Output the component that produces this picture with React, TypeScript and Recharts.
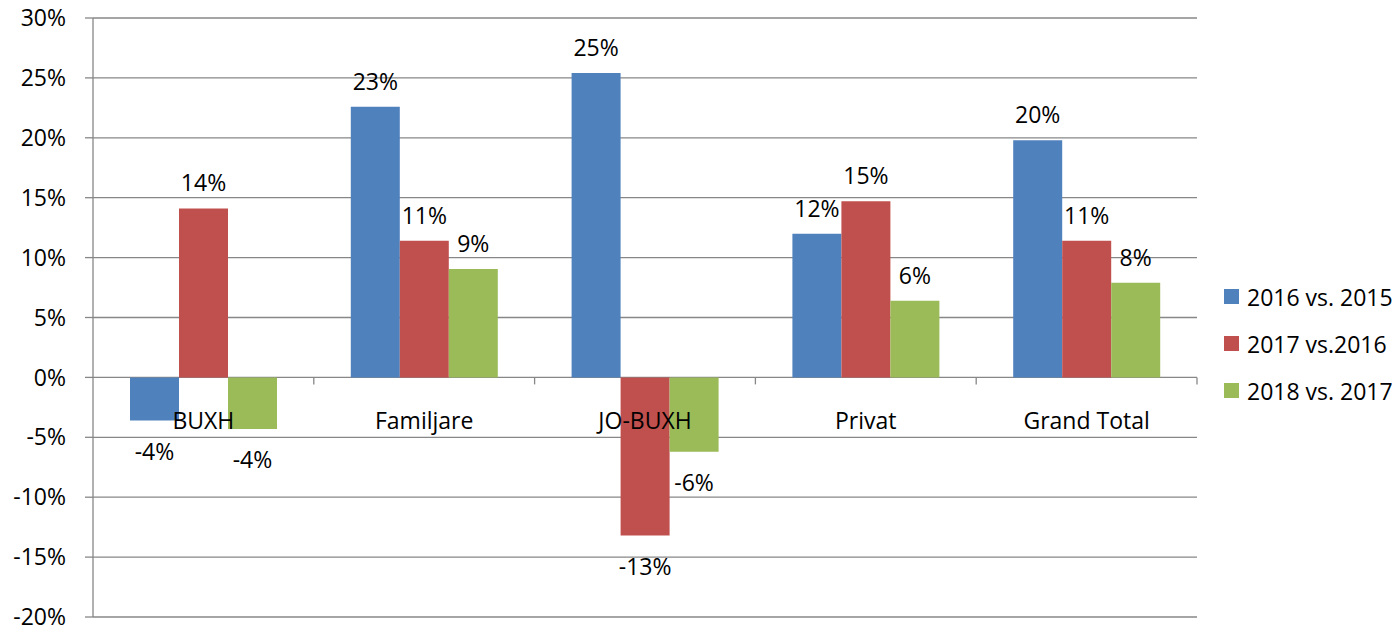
import { BarChart, Bar, XAxis, YAxis, CartesianGrid, LabelList } from "recharts";

const categories = ["BUXH", "Familjare", "JO-BUXH", "Privat", "Grand Total"];
const vs2016 = [-3.6, 22.6, 25.4, 12.0, 19.8];
const vs2017 = [14.1, 11.4, -13.2, 14.7, 11.4];
const vs2018 = [-4.3, 9.05, -6.2, 6.4, 7.9];
const seriesNames = ["2016 vs. 2015", "2017 vs.2016", "2018 vs. 2017"];
const yTicks = [-20, -15, -10, -5, 0, 5, 10, 15, 20, 25, 30];

const COLORS = ["#4F81BD", "#C0504D", "#9BBB59"];
const GRID = "#878787";
const FONT = "'Open Sans', sans-serif";

const data = categories.map((name, i) => ({
  name,
  a: vs2016[i],
  b: vs2017[i],
  c: vs2018[i],
}));

const W = 1399;
const H = 628;
const TOP = 18;
const BOTTOM = 10;
const X_H = 1;
const LEFT_AXIS = 93;
const RIGHT = 202;
const PLOT_H = H - TOP - BOTTOM - X_H;
const ZERO_Y = TOP + PLOT_H * (30 / 50);
const BAND = (W - LEFT_AXIS - RIGHT) / categories.length;

const renderLabel = (props: any) => {
  const { x, y, width, height, value } = props;
  const v = Number(value);
  const top = Math.min(Number(y), Number(y) + Number(height));
  const bottom = Math.max(Number(y), Number(y) + Number(height));
  const cy = v >= 0 ? top - 26 : bottom + 30;
  return (
    <text x={Number(x) + Number(width) / 2} y={cy} textAnchor="middle" dominantBaseline="central"
      fontSize={23} fill="#000" fontFamily={FONT}>
      {Math.round(v)}%
    </text>
  );
};

const renderCategoryTick = (props: any) => {
  const { x, payload, index } = props;
  return (
    <g key={`cat-${index}`}>
      {index > 0 && <line x1={x - BAND / 2} x2={x - BAND / 2} y1={ZERO_Y} y2={ZERO_Y + 7} stroke={GRID} strokeWidth={1.3} />}
      {index === categories.length - 1 && (
        <line x1={x + BAND / 2} x2={x + BAND / 2} y1={ZERO_Y} y2={ZERO_Y + 7} stroke={GRID} strokeWidth={1.3} />
      )}
      <text x={x} y={ZERO_Y + 43} textAnchor="middle" dominantBaseline="central" fontSize={23} fill="#000" fontFamily={FONT}>
        {payload.value}
      </text>
    </g>
  );
};

export default function App() {
  return (
    <div style={{ position: "absolute", left: 0, top: 0, width: W, height: H, background: "#fff", fontFamily: FONT }}>
      <BarChart width={W} height={H} data={data} barGap={0} barSize={49}
        margin={{ top: TOP, right: RIGHT, bottom: BOTTOM, left: 0 }}>
        <CartesianGrid vertical={false} stroke={GRID} strokeWidth={1.3} />
        <YAxis domain={[-20, 30]} ticks={yTicks} interval={0} width={LEFT_AXIS}
          tickFormatter={(v) => `${v}%`} tickSize={8} tickMargin={19}
          axisLine={{ stroke: GRID, strokeWidth: 1.3 }} tickLine={{ stroke: GRID, strokeWidth: 1.3 }}
          tick={{ fill: "#000", fontSize: 23, fontFamily: FONT }} />
        <XAxis dataKey="name" height={X_H} interval={0} axisLine={false} tickLine={false} tick={renderCategoryTick} />
        <Bar dataKey="a" name={seriesNames[0]} fill={COLORS[0]} isAnimationActive={false}>
          <LabelList dataKey="a" content={renderLabel} />
        </Bar>
        <Bar dataKey="b" name={seriesNames[1]} fill={COLORS[1]} isAnimationActive={false}>
          <LabelList dataKey="b" content={renderLabel} />
        </Bar>
        <Bar dataKey="c" name={seriesNames[2]} fill={COLORS[2]} isAnimationActive={false}>
          <LabelList dataKey="c" content={renderLabel} />
        </Bar>
      </BarChart>
      <div style={{ position: "absolute", left: 1224, top: 273 }}>
        {seriesNames.map((s, i) => (
          <div key={s} style={{ display: "flex", alignItems: "center", height: 47, fontSize: 23, color: "#000", whiteSpace: "nowrap" }}>
            <span style={{ width: 15, height: 15, background: COLORS[i], marginRight: 8, display: "inline-block" }} />
            {s}
          </div>
        ))}
      </div>
    </div>
  );
}
